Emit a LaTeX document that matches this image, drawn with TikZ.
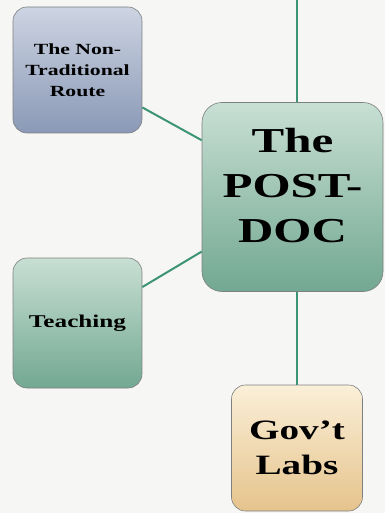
\documentclass[tikz,border=0pt]{standalone}
\usepackage{fontspec}
\newfontfamily\mapfont[FakeStretch=1.4]{Liberation Serif}

\definecolor{paper}{RGB}{246,246,245}
\definecolor{link}{RGB}{60,148,116}
\definecolor{edge}{RGB}{125,128,128}
\definecolor{blueTop}{RGB}{205,212,226}
\definecolor{blueBot}{RGB}{138,153,182}
\definecolor{greenTop}{RGB}{200,223,212}
\definecolor{greenBot}{RGB}{114,168,146}
\definecolor{sandTop}{RGB}{250,239,216}
\definecolor{sandBot}{RGB}{230,195,140}

\begin{document}
\begin{tikzpicture}[x=1pt, y=-1pt,
    topic/.style={draw=edge, line width=0.6pt, rounded corners=14pt, inner sep=0pt,
        align=center, font=\mapfont\bfseries},
    branch/.style={draw=link, line width=2pt}]
    % Draw the background
    \fill[paper] (0,0) rectangle (385,513);
    \useasboundingbox (0,0) rectangle (385,513);

    % The boxes
    \node[topic, top color=blueTop, bottom color=blueBot, minimum width=129pt, minimum height=126pt,
        font=\mapfont\bfseries\fontsize{15.5}{21}\selectfont] (route) at (77.5,70) {The Non-\\Traditional\\Route};
    \node[topic, top color=greenTop, bottom color=greenBot, minimum width=129pt, minimum height=130pt,
        font=\mapfont\bfseries\fontsize{18}{22}\selectfont] (teach) at (77.5,323) {Teaching};
    \node[topic, top color=greenTop, bottom color=greenBot, minimum width=181pt, minimum height=189pt,
        rounded corners=20pt] (post) at (292.5,197) {};
    \node[align=center, font=\mapfont\bfseries\fontsize{35}{45}\selectfont] (postText)
        at ([yshift=11pt]post.center) {The\\POST-\\DOC};
    \node[topic, top color=sandTop, bottom color=sandBot, minimum width=131pt, minimum height=126pt,
        font=\mapfont\bfseries\fontsize{28}{35}\selectfont] (labs) at (297,448) {Gov’t\\Labs};

    % Connectors
    \coordinate (top) at (297,0);
    \draw[branch] (top) -- (top |- post.north);
    \draw[branch] (labs.north) -- (labs.north |- post.south);
    \draw[branch] (route.-30) -- (post.148);
    \draw[branch] (teach.29) -- (post.211);
\end{tikzpicture}
\end{document}
